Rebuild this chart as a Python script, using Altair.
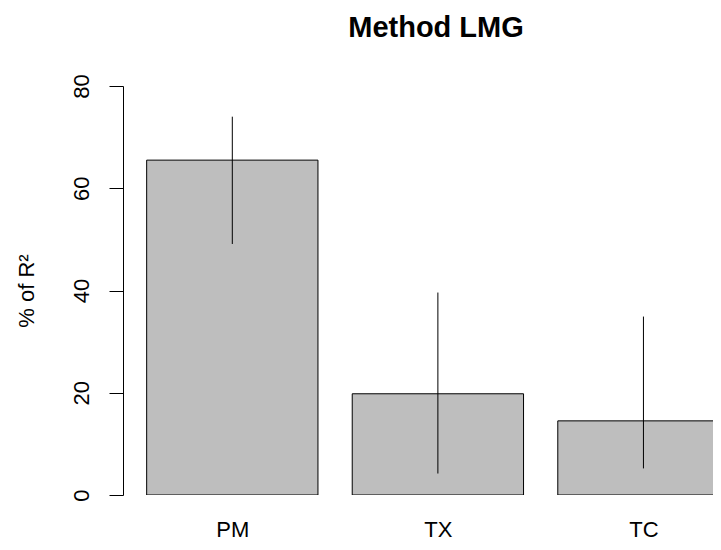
import altair as alt
import pandas as pd

categories = ["PM", "TX", "TC"]
shares = [65.5, 19.8, 14.5]
lower = [49.1, 4.2, 5.2]
upper = [74.0, 39.6, 34.9]
chart_title = "Method LMG"

# bar layout as in R barplot (width 1, space 0.2)
starts = [0.2 + 1.2 * i for i in range(len(categories))]
df = pd.DataFrame({
    "cat": categories,
    "val": shares,
    "lo": lower,
    "hi": upper,
    "x0": starts,
    "x1": [s + 1.0 for s in starts],
    "xc": [s + 0.5 for s in starts],
})

FONT = "Liberation Sans"
xscale = alt.Scale(domain=[0.0619, 3.506], nice=False, zero=False)
yscale = alt.Scale(domain=[0, 80], nice=False)

label_expr = " : ".join(
    [f"abs(datum.value - {s + 0.5}) < 0.01 ? '{c}'" for s, c in zip(starts, categories)]
) + " : ''"

xaxis = alt.Axis(
    values=[s + 0.5 for s in starts], labelExpr=label_expr, title=None,
    domain=False, ticks=False, tickSize=0, grid=False,
    labelFont=FONT, labelFontSize=22, labelColor="black",
    labelPadding=41, labelBaseline="alphabetic",
)
yaxis = alt.Axis(
    values=[0, 20, 40, 60, 80], title="% of R²", grid=False,
    domainColor="black", tickColor="black", tickSize=14,
    labelFont=FONT, labelFontSize=22, labelColor="black",
    labelAngle=270, labelAlign="center", labelBaseline="alphabetic", labelPadding=21,
    titleFont=FONT, titleFontSize=22, titleFontWeight="normal", titleColor="black",
    titleAngle=270, titleBaseline="alphabetic", titleAlign="center",
    titleX=-90, titleY=204.5,
)

bars = alt.Chart(df).mark_bar(
    fill="#BEBEBE", stroke="black", strokeWidth=1, clip=True
).encode(
    x=alt.X("x0:Q", scale=xscale, axis=xaxis),
    x2="x1:Q",
    y=alt.Y("val:Q", scale=yscale, axis=yaxis),
    y2=alt.datum(0),
)

err = alt.Chart(df).mark_rule(color="black", strokeWidth=1).encode(
    x=alt.X("xc:Q", scale=xscale),
    y=alt.Y("lo:Q", scale=yscale),
    y2="hi:Q",
)

title = alt.Chart(pd.DataFrame({"t": [chart_title]})).mark_text(
    font=FONT, fontSize=29, fontWeight="bold", color="black",
    align="center", baseline="alphabetic",
).encode(
    x=alt.value(313),
    y=alt.value(-49),
    text="t:N",
)

chart = (bars + err + title).properties(
    width=590,
    height=409,
    autosize=alt.AutoSizeParams(type="none"),
    padding={"left": 115, "top": 78, "right": 0, "bottom": 47},
).configure_view(stroke=None)

chart.save("out.html", embed_options={"renderer": "svg", "actions": False})
